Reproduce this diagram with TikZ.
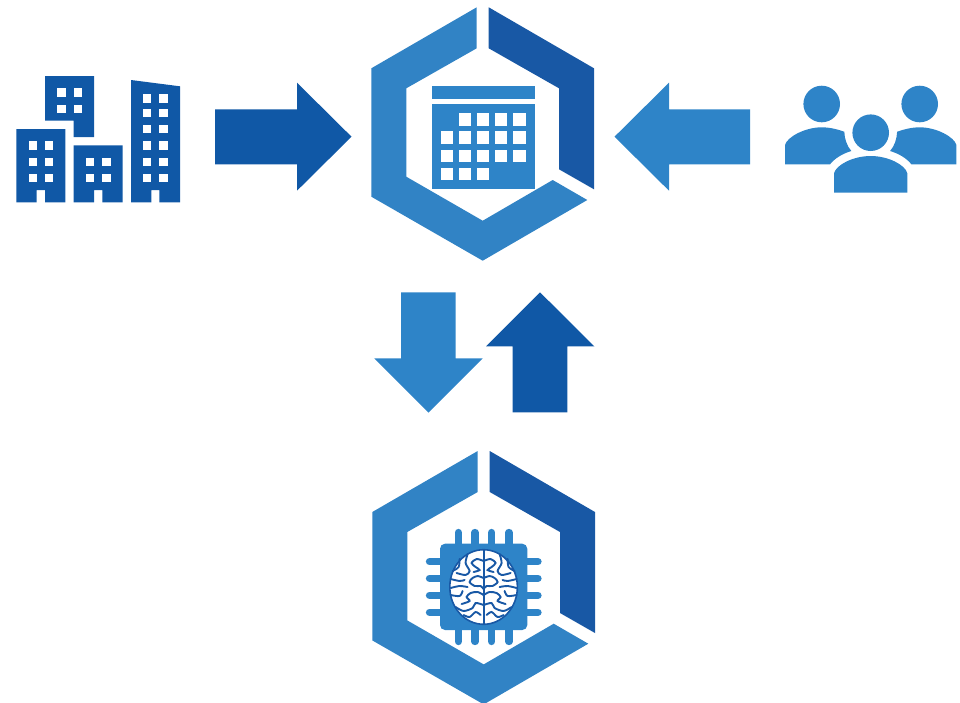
\documentclass[tikz,border=0pt]{standalone}
\usepackage{xcolor}
\usepackage{tikz}
\definecolor{hexlight}{HTML}{3183C5}
\definecolor{hexdark}{HTML}{1858A5}
\definecolor{iconlight}{HTML}{2E84C8}
\definecolor{icondark}{HTML}{1058A6}
\newcommand{\hexring}{%
    \fill[hexlight] (476.7,7.3) -- (476.7,48.3) -- (406.3,88.3) -- (406.3,176.7) -- (482.7,220.7)
        -- (552.7,180) -- (587.3,200) -- (482.7,260.7) -- (371.3,196.7) -- (371.3,68.3) -- cycle;
    \fill[hexdark] (488.7,7.3) -- (594,68.3) -- (594,189.3) -- (559,169.3) -- (559,88.3) -- (488.7,48.3) -- cycle;
}
\tikzset{
    window/.style={fill=white},
    brainline/.style={draw=hexdark, line width=1.9pt, line cap=round},
    pin/.style={draw=iconlight, line width=7.3pt, line cap=round},
}

\begin{document}
\begin{tikzpicture}[x=1pt, y=-1pt]
    \useasboundingbox (0,0) rectangle (960,702);

    % Buildings
    \fill[icondark] (45,76) -- (94,76) -- (94,137) -- (73.7,137) -- (73.7,120.7) -- (45,120.7) -- cycle;
    \fill[icondark] (16.3,129) -- (65.3,129) -- (65.3,202.3) -- (45,202.3) -- (45,190) -- (36.7,190) -- (36.7,202.3) -- (16.3,202.3) -- cycle;
    \fill[icondark] (73.7,145.3) -- (122.7,145.3) -- (122.7,202.3) -- (102.3,202.3) -- (102.3,190) -- (94,190) -- (94,202.3) -- (73.7,202.3) -- cycle;
    \fill[icondark] (131,80) -- (180,86.3) -- (180,202.3) -- (159.3,202.3) -- (159.3,190) -- (151.3,190) -- (151.3,202.3) -- (131,202.3) -- cycle;
    \foreach \wx in {57.3,73.7} \foreach \wy in {88.3,104.7}
        \fill[window] (\wx,\wy) rectangle +(8.3,8.3);
    \foreach \wx in {28.7,45} \foreach \wy in {141.3,157.7,174}
        \fill[window] (\wx,\wy) rectangle +(8.3,8.3);
    \foreach \wx in {86,102.3} \foreach \wy in {157.7,174}
        \fill[window] (\wx,\wy) rectangle +(8.3,8.3);
    \foreach \wx in {143,159.3} \foreach \wy in {94.3,108.7,125,141.3,157.7,174}
        \fill[window] (\wx,\wy) rectangle +(8.3,8.3);

    % People
    \fill[iconlight] (821.7,104) circle (18.3);
    \fill[iconlight] (919.7,104) circle (18.3);
    \fill[iconlight] (870.7,132.7) circle (18.3);
    \fill[iconlight] (785,164.3) -- (785,145) .. controls (787,137) and (805,127.3) .. (821.7,127.3)
        .. controls (830,127.3) and (838,129.5) .. (844.3,131.7)
        .. controls (844.5,139) and (847,146) .. (851.3,151)
        .. controls (843,153.5) and (835,158) .. (830,164.3) -- cycle;
    \fill[iconlight] (956.4,164.3) -- (956.4,145) .. controls (954.4,137) and (936.4,127.3) .. (919.7,127.3)
        .. controls (911.4,127.3) and (903.4,129.5) .. (897.1,131.7)
        .. controls (896.9,139) and (894.4,146) .. (890.1,151)
        .. controls (898.4,153.5) and (906.4,158) .. (911.4,164.3) -- cycle;
    \fill[iconlight] (834,192.7) -- (834,173.3) .. controls (836,165) and (853,156) .. (870.7,156)
        .. controls (888.4,156) and (905.4,165) .. (907.3,173.3) -- (907.3,192.7) -- cycle;

    % Block arrows
    \fill[icondark] (215,109.3) -- (297,109.3) -- (297,82.7) -- (351.5,136.7) -- (297,190.7) -- (297,164.3) -- (215,164.3) -- cycle;
    \fill[iconlight] (750,109.3) -- (669,109.3) -- (669,82.7) -- (614.5,136.7) -- (669,190.7) -- (669,164.3) -- (750,164.3) -- cycle;
    \fill[iconlight] (401,292.3) -- (455.7,292.3) -- (455.7,358.3) -- (482.7,358.3) -- (428.4,412.6) -- (374.3,358.3) -- (401,358.3) -- cycle;
    \fill[icondark] (512.7,412.3) -- (512.7,346.3) -- (486,346.3) -- (540,292.3) -- (594.3,346.3) -- (567.3,346.3) -- (567.3,412.3) -- cycle;

    % Calendar hexagon
    \hexring
    \fill[iconlight] (432,86) rectangle (535,99);
    \fill[iconlight] (432,104.3) rectangle (535,189);
    \foreach \cx/\cy in {459/113.3,477/113.3,495/113.3,513.3/113.3,
        441/131.3,459/131.3,477/131.3,495/131.3,513.3/131.3,
        441/149.7,459/149.7,477/149.7,495/149.7,513.3/149.7,
        441/167.7,459/167.7,477/167.7}
        \fill[window] (\cx,\cy) rectangle +(12.3,12.3);

    % Chip hexagon
    \begin{scope}[shift={(1,443.7)}]
        \hexring
    \end{scope}
    \foreach \px in {458.3,475,491.7,509} {
        \draw[pin] (\px,532.5) -- (\px,545);
        \draw[pin] (\px,629) -- (\px,641.5);
    }
    \foreach \py in {561.7,578.3,595.3,612.3} {
        \draw[pin] (429.5,\py) -- (442,\py);
        \draw[pin] (525,\py) -- (538,\py);
    }
    \fill[iconlight, rounded corners=5pt] (440,543.7) rectangle (527.3,630);

    % Brain
    \fill[white] (483.6,587) ellipse (33.8 and 37.3);
    \foreach \side in {1,-1} {
        \begin{scope}[shift={(483.6,587)}, xscale=\side]
            \draw[brainline] plot[smooth] coordinates {(0,-26) (7,-28) (12,-24) (8,-20) (4,-17) (10,-15)};
            \draw[brainline] plot[smooth] coordinates {(16,-33) (18,-24) (14,-16) (18,-12) (27,-14)};
            \draw[brainline] plot[smooth] coordinates {(24,-28) (25,-20) (31,-16)};
            \draw[brainline] plot[smooth] coordinates {(0,-9) (6,-11) (11,-9) (14,-5) (9,-1) (3,-1) (0,2)};
            \draw[brainline] plot[smooth] coordinates {(19,-7) (24,-6) (33,-8)};
            \draw[brainline] plot[smooth] coordinates {(16,0) (24,-1) (33,1)};
            \draw[brainline] plot[smooth] coordinates {(0,8) (6,5) (13,6) (17,10) (14,14) (22,17)};
            \draw[brainline] plot[smooth] coordinates {(21,4) (24,9) (33,8)};
            \draw[brainline] plot[smooth] coordinates {(0,18) (8,16) (11,21) (20,24) (28,20)};
            \draw[brainline] plot[smooth] coordinates {(3,28) (8,25) (14,30) (20,28)};
        \end{scope}
    }
    \draw[hexdark, line width=1.6pt] (483.6,587) ellipse (33.8 and 37.3);
    \draw[hexdark, line width=2pt] (483.6,549.7) -- (483.6,624.3);
\end{tikzpicture}
\end{document}
